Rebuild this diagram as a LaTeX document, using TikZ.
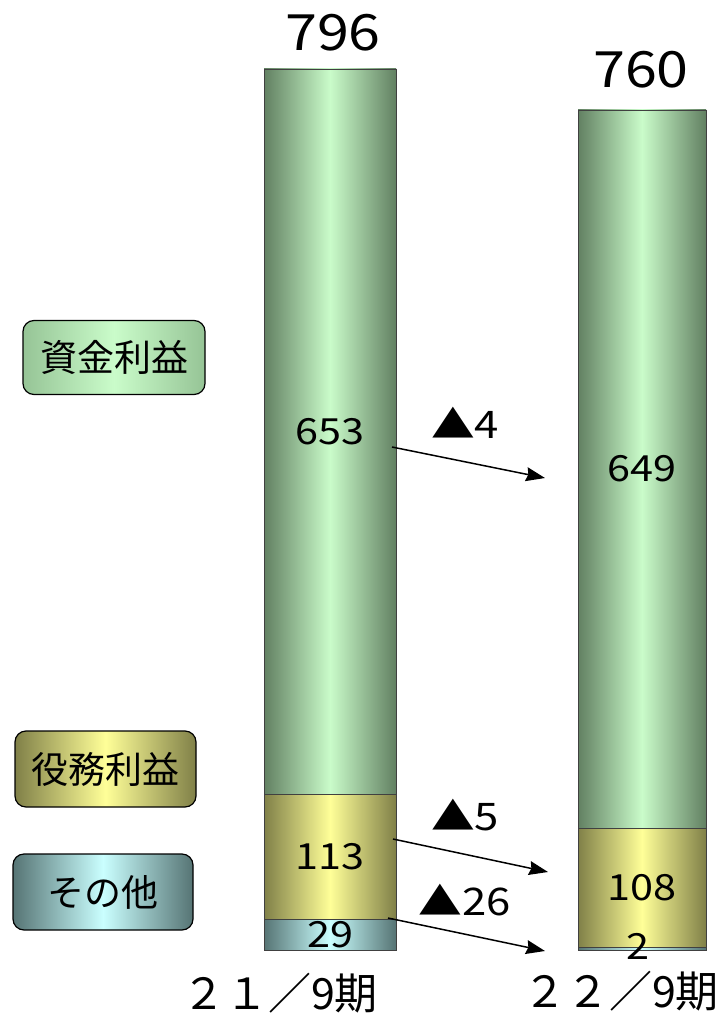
\documentclass[tikz,border=0pt]{standalone}
\usepackage{fontspec}
\setmainfont{Noto Sans CJK JP}
\newfontfamily\numfont{Noto Sans CJK JP}[FakeStretch=1.15]
\usetikzlibrary{arrows.meta}

\definecolor{gEdge}{RGB}{98,128,98}
\definecolor{gMid}{RGB}{202,252,202}
\definecolor{gLight}{RGB}{150,196,150}
\definecolor{yEdge}{RGB}{128,128,72}
\definecolor{yMid}{RGB}{255,255,152}
\definecolor{tEdge}{RGB}{86,116,116}
\definecolor{tMid}{RGB}{202,255,255}

\begin{document}
\begin{tikzpicture}[
    x=1pt, y=-1pt,
    bar/.style={rectangle, draw=black!75, line width=0.9pt, inner sep=0pt, outer sep=0pt, minimum width=132pt, font=\numfont\fontsize{36}{36}\selectfont},
    green/.style={left color=gEdge, right color=gEdge, middle color=gMid},
    yellow/.style={left color=yEdge, right color=yEdge, middle color=yMid},
    teal/.style={left color=tEdge, right color=tEdge, middle color=tMid},
    lgreen/.style={left color=gLight, right color=gLight, middle color=gMid},
    legend/.style={rectangle, draw, line width=1.2pt, rounded corners=11pt, inner sep=0pt, font=\fontsize{37}{37}\selectfont},
    total/.style={font=\numfont\fontsize{50}{50}\selectfont},
    delta/.style={font=\numfont\fontsize{38}{38}\selectfont},
    cat/.style={inner sep=0pt, font=\fontsize{43}{43}\selectfont},
    arrow/.style={-{Stealth[length=19pt, width=14pt, inset=2pt]}, line width=1.5pt}
]
\useasboundingbox (0,0) rectangle (722,1014);

% bar 21/9
\node[bar, green, minimum height=725pt] (g1) at (330,431.5) {653};
\node[bar, yellow, minimum height=125pt] (y1) at (330,856.5) {113};
\node[bar, teal, minimum height=31pt] (t1) at (330,934.5) {29};
\node[total] (s1) at (333,33) {796};
\node[cat] (c1) at (280,993) {２１／9期};

% bar 22/9
\node[bar, green, minimum height=718pt, minimum width=128pt] (g2) at (642,469) {649};
\node[bar, yellow, minimum height=119pt, minimum width=128pt] (y2) at (642,887.5) {108};
\node[bar, teal, minimum height=3pt, minimum width=128pt] (t2) at (642,948.5) {};
\node[font=\numfont\fontsize{36}{36}\selectfont] (v2) at (638,946) {2};
\node[total] (s2) at (641,70) {760};
\node[cat] (c2) at (621,991) {２２／9期};

% legend
\node[legend, lgreen, minimum width=182pt, minimum height=74pt] (l1) at (114,357.5) {資金利益};
\node[legend, yellow, minimum width=181pt, minimum height=76pt] (l2) at (105.5,769) {役務利益};
\node[legend, teal, minimum width=180pt, minimum height=76pt] (l3) at (103,892) {その他};

% changes
\coordinate (a1) at (392,447);
\coordinate (b1) at (545,478);
\coordinate (a2) at (393,839);
\coordinate (b2) at (548,872);
\coordinate (a3) at (388,918);
\coordinate (b3) at (545,951);
\draw[arrow] (a1) -- (b1);
\draw[arrow] (a2) -- (b2);
\draw[arrow] (a3) -- (b3);
\node[delta] (d1) at (465,423) {▲4};
\node[delta] (d2) at (465,815) {▲5};
\node[delta] (d3) at (465,900) {▲26};

\end{tikzpicture}
\end{document}
